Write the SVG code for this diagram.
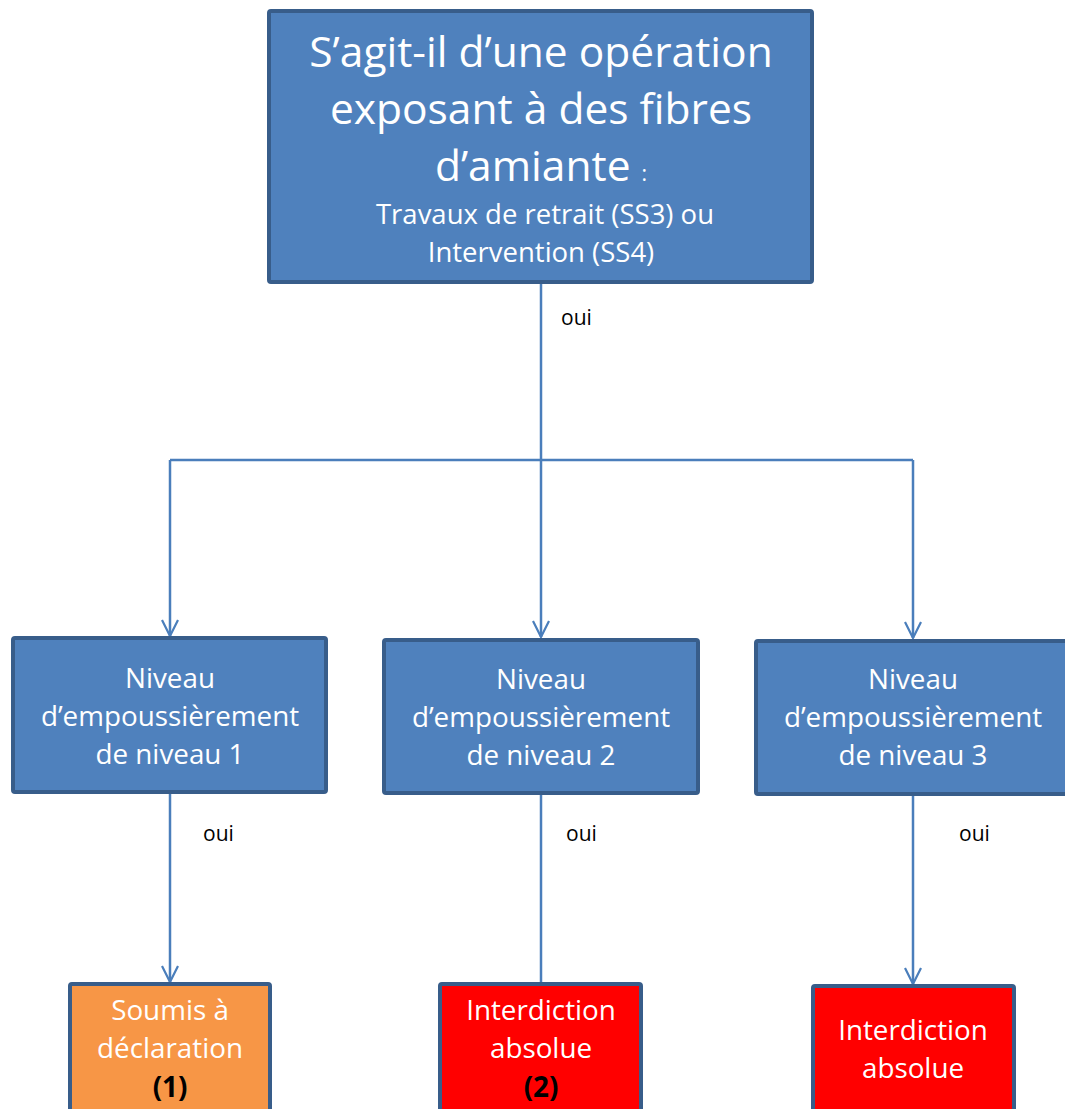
<svg xmlns="http://www.w3.org/2000/svg" width="1065" height="1109" viewBox="0 0 1065 1109">
<defs>
<marker id="arr" viewBox="0 0 20 20" refX="18" refY="10" markerWidth="20" markerHeight="20" markerUnits="userSpaceOnUse" orient="auto">
<path d="M2 2 L18 10 L2 18" fill="none" stroke="#4A7EBB" stroke-width="2.2"/>
</marker>
<style>
.box{fill:#4F81BD;stroke:#385D8A;stroke-width:4}
.org{fill:#F79646;stroke:#385D8A;stroke-width:4}
.red{fill:#FF0000;stroke:#385D8A;stroke-width:4}
.t{font-family:"Open Sans","Noto Sans","Liberation Sans",sans-serif;fill:#fff;text-anchor:middle;font-variant-ligatures:none}
.c{fill:none;stroke:#4A7EBB;stroke-width:2.5}
.lbl{font-family:"Open Sans","Noto Sans","Liberation Sans",sans-serif;font-size:21px;fill:#000}
.b{font-weight:bold;fill:#000}
.m{font-size:27.8px}
</style>
</defs>
<rect width="1065" height="1109" fill="#fff"/>
<g id="connectors">
<path class="c" d="M541 284 V460"/>
<path class="c" d="M170 460 H913"/>
<path class="c" d="M170 460 V636" marker-end="url(#arr)"/>
<path class="c" d="M541 460 V637" marker-end="url(#arr)"/>
<path class="c" d="M913 460 V638" marker-end="url(#arr)"/>
<path class="c" d="M170 794 V982" marker-end="url(#arr)"/>
<path class="c" d="M541 794 V982"/>
<path class="c" d="M913 796 V984" marker-end="url(#arr)"/>
<text class="lbl" x="561" y="325">oui</text>
<text class="lbl" x="203" y="841">oui</text>
<text class="lbl" x="566" y="841">oui</text>
<text class="lbl" x="959" y="841">oui</text>
</g>
<g id="top">
<rect class="box" x="269" y="11" width="543" height="271" rx="2"/>
<text class="t" x="541" y="67" font-size="42.5">S’agit-il d’une opération</text>
<text class="t" x="541" y="124" font-size="42.5">exposant à des fibres</text>
<text class="t" x="541" y="181" font-size="42.5">d’amiante <tspan font-size="21">:</tspan></text>
<text class="t" x="545" y="224" font-size="27.5">Travaux de retrait (SS3) ou</text>
<text class="t" x="541" y="262" font-size="27.5">Intervention (SS4)</text>
</g>
<g id="n1">
<rect class="box" x="13" y="638" width="313" height="154" rx="2"/>
<text class="t m" x="170" y="688">Niveau</text>
<text class="t m" x="170" y="726">d’empoussièrement</text>
<text class="t m" x="170" y="764">de niveau 1</text>
</g>
<g id="n2">
<rect class="box" x="384" y="640" width="314" height="153" rx="2"/>
<text class="t m" x="541" y="689">Niveau</text>
<text class="t m" x="541" y="727">d’empoussièrement</text>
<text class="t m" x="541" y="765">de niveau 2</text>
</g>
<g id="n3">
<rect class="box" x="756" y="641" width="320" height="153" rx="2"/>
<text class="t m" x="913" y="689">Niveau</text>
<text class="t m" x="913" y="727">d’empoussièrement</text>
<text class="t m" x="913" y="765">de niveau 3</text>
</g>
<g id="b1">
<rect class="org" x="70" y="984" width="200" height="140" rx="2"/>
<text class="t m" x="170" y="1020">Soumis à</text>
<text class="t m" x="170" y="1058">déclaration</text>
<text class="t m b" x="170" y="1097">(1)</text>
</g>
<g id="b2">
<rect class="red" x="440" y="984" width="201" height="140" rx="2"/>
<text class="t m" x="541" y="1020">Interdiction</text>
<text class="t m" x="541" y="1058">absolue</text>
<text class="t m b" x="541" y="1097">(2)</text>
</g>
<g id="b3">
<rect class="red" x="813" y="986" width="201" height="140" rx="2"/>
<text class="t m" x="913" y="1040">Interdiction</text>
<text class="t m" x="913" y="1078">absolue</text>
</g>
</svg>
